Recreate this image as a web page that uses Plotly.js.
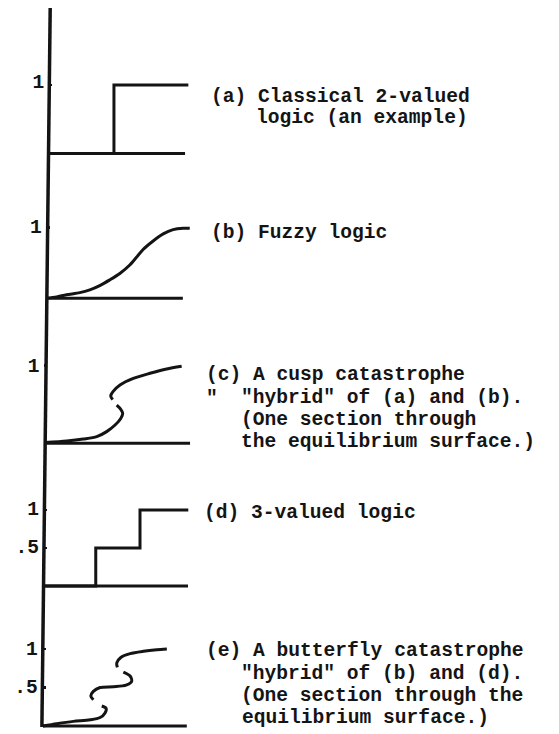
<!DOCTYPE html>
<html><head><meta charset="utf-8">
<script src="https://cdn.plot.ly/plotly-3.0.1.min.js"></script>
<style>html,body{margin:0;padding:0;background:#fff}</style>
</head><body><div id="chart" style="width:559px;height:734px"></div>
<script>
// ---------- data (x: horizontal units from the vertical axis, y: truth value) ----------
// (a) Classical 2-valued logic
const aBaseX = [0, 9.05];
const aBaseY = [0, 0];
const aLogicX = [0, 4.31, 4.31, 9.27];
const aLogicY = [0, 0, 1, 1];
// (b) Fuzzy logic
const bBaseX = [0, 9.07];
const bBaseY = [0, 0];
const bLogicX = [0, 0.65, 1.31, 2.2, 2.87, 3.53, 4.2, 4.87, 5.53, 5.98, 6.42, 7.09, 7.76, 8.42, 9.09, 9.53];
const bLogicY = [0, 0.02, 0.05, 0.08, 0.12, 0.18, 0.26, 0.35, 0.47, 0.58, 0.69, 0.81, 0.91, 0.97, 0.99, 0.99];
// (c) Cusp catastrophe
const cBaseX = [0, 9.71];
const cBaseY = [0, 0];
const cLogicX = [0.04, 1.49, 2.59, 3.49, 4.15, 4.71, 5.09, 5.22, 5.09, 4.82, null, 4.55, 4.42, 4.6, 5.04, 5.93, 7.04, 8.15, 9.15];
const cLogicY = [0.01, 0.03, 0.055, 0.085, 0.15, 0.235, 0.32, 0.386, 0.437, 0.49, null, 0.56, 0.61, 0.67, 0.75, 0.835, 0.90, 0.955, 0.99];
// (d) 3-valued logic
const dBaseX = [0, 9.6];
const dBaseY = [0, 0];
const dLogicX = [0, 3.45, 3.45, 6.4, 6.4, 9.62];
const dLogicY = [0, 0, 0.5, 0.5, 1, 1];
// (e) Butterfly catastrophe
const eBaseX = [0, 9.6];
const eBaseY = [0, 0];
const eLogicX = [0, 0.93, 2.04, 3.15, 3.82, 4.15, 4.22, 3.93, null, 3.37, 3.2, 3.37, 3.82, 4.71, 5.55, 5.93, 5.82, 5.37, null, 4.97, 4.93, 5.2, 5.82, 6.71, 7.6, 8.27];
const eLogicY = [0, 0.03, 0.06, 0.08, 0.11, 0.17, 0.23, 0.26, null, 0.34, 0.39, 0.45, 0.50, 0.51, 0.53, 0.58, 0.65, 0.70, null, 0.76, 0.82, 0.89, 0.94, 0.97, 0.99, 1.0];
// tick labels
const tickValsTwo = [1];
const tickTextTwo = ['1'];
const tickValsThree = [0.5, 1];
const tickTextThree = ['.5', '1'];
// captions
const capA = ['(a) Classical 2-valued', 'logic (an example)'];
const capB = ['(b) Fuzzy logic'];
const capC = ['(c) A cusp catastrophe', '"', '"hybrid" of (a) and (b).', '(One section through', 'the equilibrium surface.)'];
const capD = ['(d) 3-valued logic'];
const capE = ['(e) A butterfly catastrophe', '"hybrid" of (b) and (d).', '(One section through the', 'equilibrium surface.)'];

// ---------- layout ----------
const W = 559, H = 734;
const INK = '#141414';
const FONT = 'Liberation Mono, Courier New, monospace';
const XU = 15; // px per horizontal unit
// panel calibration: axis x, baseline px, "1" px, band top/bottom px, tick label shift
const panels = [
  {ax: 49.3, base: 153.5, one: 85, top: 0, bot: 190, tv: tickValsTwo, tt: tickTextTwo, sh: -4},
  {ax: 46.8, base: 298.3, one: 227.5, top: 190, bot: 330, tv: tickValsTwo, tt: tickTextTwo, sh: -1},
  {ax: 44.4, base: 443.3, one: 365.5, top: 330, bot: 475, tv: tickValsTwo, tt: tickTextTwo, sh: 0},
  {ax: 44.0, base: 586, one: 510, top: 475, bot: 615, tv: tickValsThree, tt: tickTextThree, sh: -2},
  {ax: 42.8, base: 726, one: 649, top: 615, bot: 734, tv: tickValsThree, tt: tickTextThree, sh: -1}
];
const layout = {
  width: W, height: H, margin: {l: 0, r: 0, t: 0, b: 0},
  paper_bgcolor: '#fff', plot_bgcolor: 'rgba(0,0,0,0)', showlegend: false,
  annotations: [], shapes: []
};
panels.forEach((p, i) => {
  const n = i === 0 ? '' : String(i + 1);
  const unit = p.base - p.one;
  layout['xaxis' + n] = {
    domain: [p.ax / W, (p.ax + 10 * XU) / W], range: [0, 10],
    showgrid: false, zeroline: false, showline: false, showticklabels: false, ticks: '',
    anchor: 'y' + n, fixedrange: true
  };
  layout['yaxis' + n] = {
    domain: [1 - p.bot / H, 1 - p.top / H],
    range: [(p.base - p.bot) / unit, (p.base - p.top) / unit],
    showgrid: false, zeroline: false, showline: false,
    tickmode: 'array', tickvals: p.tv, ticktext: p.tt,
    ticks: 'inside', ticklen: 3, tickwidth: 2.5, tickcolor: INK,
    ticklabelstandoff: 4, ticklabelshift: p.sh,
    tickfont: {family: FONT, size: 19.6, color: INK, weight: 'bold'},
    anchor: 'x' + n, fixedrange: true
  };
});
// the long vertical axis
layout.shapes.push({type: 'line', xref: 'paper', yref: 'paper',
  x0: 50.2 / W, y0: 1 - 8 / H, x1: 41.9 / W, y1: 1 - 727 / H,
  line: {color: INK, width: 3.5}});

function caption(txt, xpx, basePx) {
  layout.annotations.push({
    text: txt, xref: 'paper', yref: 'paper', x: (xpx - 3) / W, y: 1 - (basePx - 5) / H,
    xanchor: 'left', yanchor: 'middle', showarrow: false, align: 'left',
    font: {family: FONT, size: 19.6, color: INK, weight: 'bold'}
  });
}
caption(capA[0], 212, 102); caption(capA[1], 257, 123.5);
caption(capB[0], 212, 238);
caption(capC[0], 207, 380); caption(capC[1], 207, 404); caption(capC[2], 242, 403);
caption(capC[3], 242, 425); caption(capC[4], 242, 447);
caption(capD[0], 205, 518);
caption(capE[0], 207, 656); caption(capE[1], 242, 679); caption(capE[2], 242, 701); caption(capE[3], 243, 723);

// ---------- traces ----------
const series = [
  [aBaseX, aBaseY, aLogicX, aLogicY, 'linear'],
  [bBaseX, bBaseY, bLogicX, bLogicY, 'spline'],
  [cBaseX, cBaseY, cLogicX, cLogicY, 'spline'],
  [dBaseX, dBaseY, dLogicX, dLogicY, 'linear'],
  [eBaseX, eBaseY, eLogicX, eLogicY, 'spline']
];
const data = [];
series.forEach((s, i) => {
  const n = i === 0 ? '' : String(i + 1);
  data.push({x: s[0], y: s[1], type: 'scatter', mode: 'lines', xaxis: 'x' + n, yaxis: 'y' + n,
    line: {color: INK, width: 3}, hoverinfo: 'skip'});
  data.push({x: s[2], y: s[3], type: 'scatter', mode: 'lines', xaxis: 'x' + n, yaxis: 'y' + n,
    connectgaps: false, line: {color: INK, width: 3, shape: s[4], smoothing: 0.8}, hoverinfo: 'skip'});
});
Plotly.newPlot('chart', data, layout, {staticPlot: true, displayModeBar: false});
</script></body></html>
